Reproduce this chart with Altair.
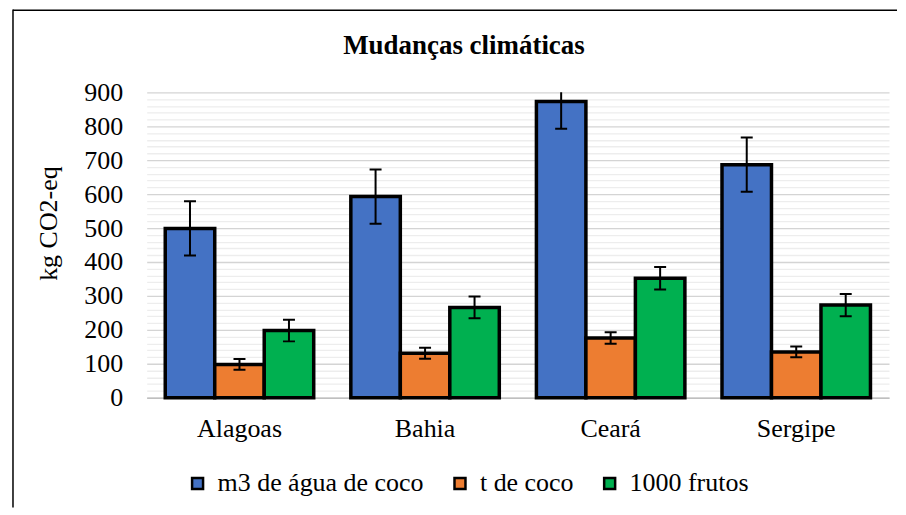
import altair as alt
import pandas as pd

regions = ["Alagoas", "Bahia", "Ceará", "Sergipe"]
series = ["m3 de água de coco", "t de coco", "1000 frutos"]
agua = [499, 593, 873, 687]
agua_err = [80, 80, 80, 80]
coco = [98, 131, 176, 135]
coco_err = [16, 16, 17, 16]
frutos = [198, 266, 352, 273]
frutos_err = [32, 32, 33, 33]
colors = ["#4472C4", "#ED7D31", "#00B050"]
y_ticks = list(range(0, 901, 20))
chart_title = "Mudanças climáticas"
y_title = "kg CO2-eq"

rows = []
for vals, errs, s in [(agua, agua_err, series[0]), (coco, coco_err, series[1]), (frutos, frutos_err, series[2])]:
    for r, v, e in zip(regions, vals, errs):
        rows.append({"region": r, "series": s, "value": v, "lo": v - e, "hi": v + e})
df = pd.DataFrame(rows)
one = pd.DataFrame({"d": [0]})

FONT = "Liberation Serif"
W, H = 744, 306
yscale = alt.Scale(domain=[0, 900], nice=False)
y_axis = alt.Axis(
    values=y_ticks,
    labelExpr="datum.value % 100 == 0 ? datum.label : ''",
    labelOverlap=False,
    gridColor=alt.condition("datum.value % 100 == 0", alt.value("#d4d4d4"), alt.value("#ededed")),
    gridWidth=1.3,
    domain=False, ticks=False, tickSize=0, labelPadding=24,
    labelFont=FONT, labelFontSize=26, labelColor="black",
    title=y_title, titleFont=FONT, titleFontSize=26, titleFontWeight="normal",
    titleColor="black", titleX=-98, titleY=131, titleBaseline="middle",
)

base = alt.Chart(df).encode(
    x=alt.X(
        "region:N",
        sort=regions,
        scale=alt.Scale(paddingInner=0.2, paddingOuter=0.1),
        axis=alt.Axis(
            title=None, labelAngle=0, labelFont=FONT, labelFontSize=26, labelColor="black",
            ticks=False, tickSize=0, labelPadding=18, domainColor="#bfbfbf", domainWidth=1.5,
            grid=False,
        ),
    ),
    xOffset=alt.XOffset("series:N", sort=series),
)

bars = base.mark_bar(stroke="black", strokeWidth=3.5).encode(
    y=alt.Y("value:Q", scale=yscale, axis=y_axis),
    color=alt.Color(
        "series:N",
        sort=series,
        scale=alt.Scale(domain=series, range=colors),
        legend=alt.Legend(
            title=None, orient="none", legendX=38, legendY=379, direction="horizontal",
            symbolType="square", symbolSize=121, symbolStrokeColor="black", symbolStrokeWidth=2.5,
            symbolOpacity=1, labelFont=FONT, labelFontSize=26, labelColor="black",
            columnPadding=23, labelOffset=7, labelLimit=500,
        ),
    ),
)

rules = base.mark_rule(color="black", strokeWidth=2, clip=True).encode(
    y=alt.Y("lo:Q", scale=yscale, axis=y_axis), y2="hi:Q"
)
cap_hi = base.mark_tick(orient="horizontal", size=12, thickness=2, color="black", opacity=1, clip=True).encode(
    y=alt.Y("hi:Q", scale=yscale, axis=y_axis)
)
cap_lo = base.mark_tick(orient="horizontal", size=12, thickness=2, color="black", opacity=1, clip=True).encode(
    y=alt.Y("lo:Q", scale=yscale, axis=y_axis)
)

frame_left = alt.Chart(one).mark_rule(color="black", strokeWidth=1.5).encode(
    x=alt.value(-134), y=alt.value(-83), y2=alt.value(416)
)
frame_top = alt.Chart(one).mark_rule(color="black", strokeWidth=1.5).encode(
    x=alt.value(-134), x2=alt.value(752), y=alt.value(-82.25)
)
title = alt.Chart(one).mark_text(
    font=FONT, fontSize=27, fontWeight="bold", color="black", align="center", baseline="alphabetic"
).encode(x=alt.value(318), y=alt.value(-38), text=alt.value(chart_title))

chart = alt.layer(frame_left, frame_top, title, bars, rules, cap_hi, cap_lo).properties(
    width=W,
    height=H,
    padding={"left": 4, "top": 0, "right": 0, "bottom": 0},
).configure(background="white", font=FONT).configure_view(stroke=None)

chart.save("out.html", embed_options={"renderer": "svg", "actions": False})
